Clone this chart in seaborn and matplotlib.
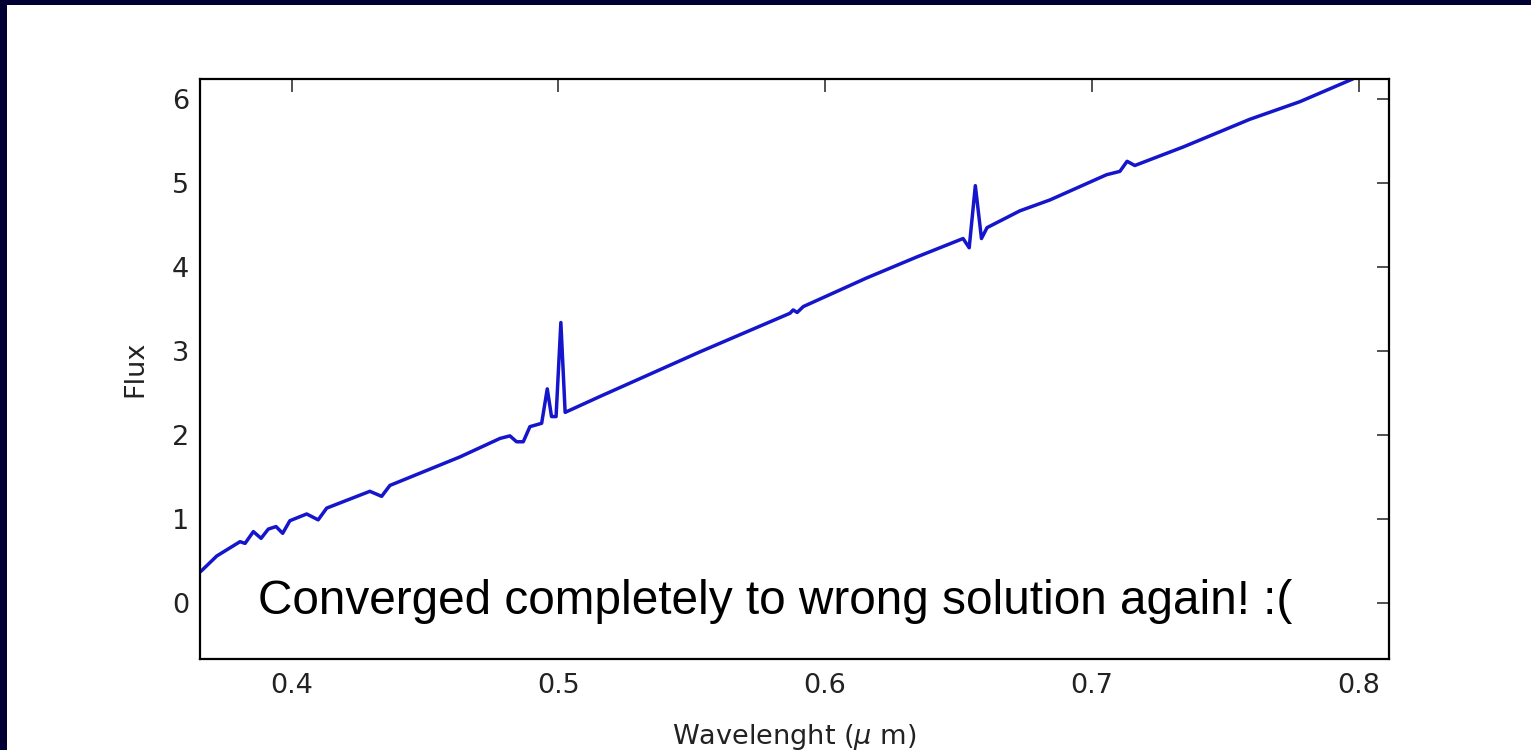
import numpy as np
import pandas as pd
import matplotlib
matplotlib.use("Agg")
import matplotlib.pyplot as plt
from matplotlib.patches import Rectangle
from matplotlib.transforms import Affine2D
import seaborn as sns

# Model spectrum: wavelength in microns, flux in arbitrary units
wavelength = [0.3656, 0.3662, 0.3719, 0.3806, 0.3825, 0.3856, 0.3885, 0.3912,
              0.3941, 0.3966, 0.3993, 0.4056, 0.4099, 0.4131, 0.4293, 0.4337,
              0.4368, 0.4631, 0.4781, 0.4818, 0.4843, 0.4868, 0.4893, 0.4937,
              0.4958, 0.4974, 0.4991, 0.5009, 0.5025, 0.5156, 0.5530, 0.5868,
              0.5880, 0.5895, 0.5918, 0.6155, 0.6343, 0.6517, 0.6540, 0.6563,
              0.6586, 0.6607, 0.6730, 0.6843, 0.7055, 0.7105, 0.7132, 0.7161,
              0.7342, 0.7592, 0.7780, 0.7978]
flux = [0.37, 0.385, 0.56, 0.73, 0.71, 0.85, 0.77, 0.88,
        0.91, 0.83, 0.98, 1.06, 0.99, 1.13, 1.33, 1.27,
        1.40, 1.74, 1.96, 1.99, 1.92, 1.92, 2.10, 2.14,
        2.55, 2.22, 2.22, 3.34, 2.27, 2.46, 2.99, 3.45,
        3.49, 3.46, 3.53, 3.87, 4.12, 4.34, 4.23, 4.97,
        4.34, 4.47, 4.67, 4.80, 5.10, 5.14, 5.26, 5.21,
        5.43, 5.76, 5.97, 6.24]

x_ticks = [0.4, 0.5, 0.6, 0.7, 0.8]
y_ticks = [0, 1, 2, 3, 4, 5, 6]
note = "Converged completely to wrong solution again! :("

sns.set_style("white")
plt.rcParams["font.family"] = ["DejaVu Sans"]
plt.rcParams["mathtext.fontset"] = "dejavusans"

fig = plt.figure(figsize=(15.31, 7.5), dpi=100)
fig.patch.set_facecolor("white")

# slide frame strips along the top and left edges
frame = "#000033"
fig.patches.append(Rectangle((0, 1 - 5 / 750), 1, 5 / 750, transform=fig.transFigure,
                             facecolor=frame, edgecolor="none", zorder=0))
fig.patches.append(Rectangle((0, 0), 7 / 1531, 1, transform=fig.transFigure,
                             facecolor=frame, edgecolor="none", zorder=0))

ax = fig.add_axes([200 / 1531, 1 - 659 / 750, 1189 / 1531, 580 / 750])

df = pd.DataFrame({"wavelength": wavelength, "flux": flux})
sns.lineplot(data=df, x="wavelength", y="flux", ax=ax, color="#1515cc",
             linewidth=2.5, estimator=None, sort=False)

ax.set_xlim(0.3656, 0.8114)
ax.set_ylim(-0.667, 6.24)
ax.set_xticks(x_ticks)
ax.set_xticklabels([f"{v:.1f}" for v in x_ticks])
ax.set_yticks(y_ticks)
ax.set_yticklabels([str(v) for v in y_ticks])

for side in ax.spines.values():
    side.set_visible(True)
    side.set_linewidth(1.6)
    side.set_color("black")

ax.tick_params(direction="in", length=9, width=1.1, top=True, right=True,
               labelsize=19.5, colors="#222222")
ax.tick_params(axis="x", pad=10)
ax.tick_params(axis="y", pad=8)

ax.set_xlabel(r"Wavelenght ($\mu$ m)", fontsize=19.5, labelpad=17, color="#222222")
ax.set_ylabel("Flux", fontsize=19.5, labelpad=17, color="#222222")

# annotation placed in pixel coordinates measured from the top-left corner
ax.text(258, 614, note, fontsize=34.4, family="Liberation Sans",
        color="black", ha="left", va="baseline",
        transform=Affine2D().scale(1, -1).translate(0, 750))

fig.savefig("out.png", dpi=100)
